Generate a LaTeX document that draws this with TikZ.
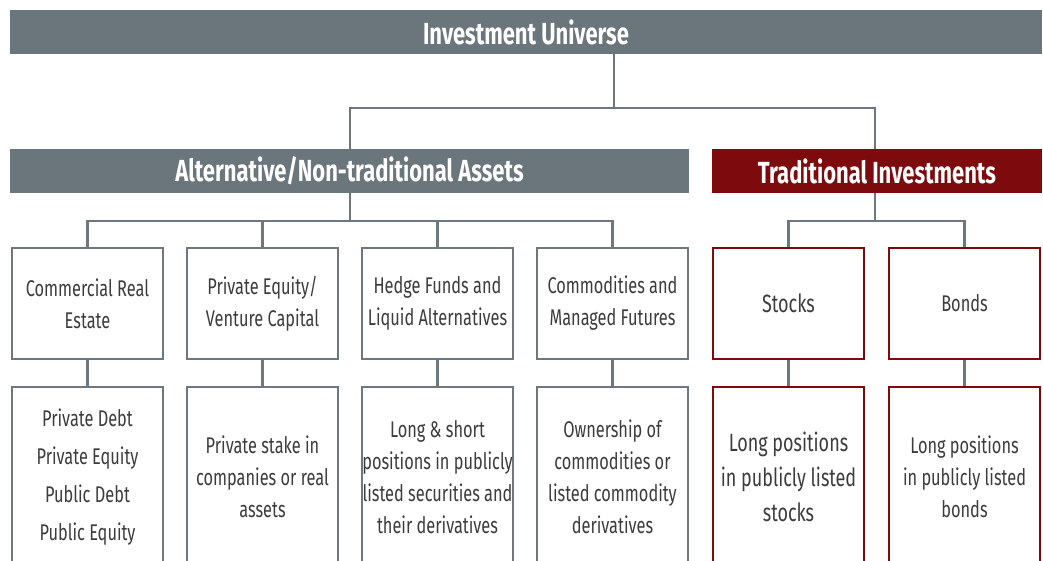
\documentclass[tikz,border=0pt]{standalone}
\usepackage{fontspec}
\setmainfont{Fira Sans}[FakeStretch=0.72]
\definecolor{bargray}{HTML}{6B767C}
\definecolor{linegray}{HTML}{6E777D}
\definecolor{darkred}{HTML}{7D0B0E}
\definecolor{txt}{HTML}{3C3C3C}
\begin{document}
\begin{tikzpicture}[x=1pt,y=-1pt,
  bar/.style={rectangle, fill=bargray, text=white, inner sep=0pt, minimum height=44pt,
    font=\bfseries\fontsize{30.5}{33}\selectfont},
  redbar/.style={bar, fill=darkred},
  gbox/.style={rectangle, draw=linegray, line width=2.7pt, fill=white, text=txt, inner sep=0pt,
    minimum width=151pt, minimum height=111pt, align=center, font=\fontsize{22.7}{32}\selectfont},
  rbox/.style={gbox, draw=darkred},
  lbox/.style={gbox, minimum height=180pt},
  lrbox/.style={rbox, minimum height=180pt},
  conn/.style={draw=linegray, line width=2.7pt}
]
\useasboundingbox (0,0) rectangle (1043,560);
\clip (0,0) rectangle (1043,560);

\node[bar, minimum width=1032pt] (top) at (526,32) {Investment Universe};
\node[bar, minimum width=679pt] (alt) at (349.5,171) {Alternative/Non-traditional Assets};
\node[redbar, minimum width=330pt] (trad) at (877,171) {Traditional Investments};

\node[gbox] (m1) at (87.5,303.5) {Commercial Real\\Estate};
\node[gbox] (m2) at (262.5,303.5) {Private Equity/\\Venture Capital};
\node[gbox] (m3) at (437.5,303.5) {Hedge Funds and\\Liquid Alternatives};
\node[gbox] (m4) at (612.5,303.5) {Commodities and\\Managed Futures};
\node[rbox, font=\fontsize{25}{32}\selectfont] (m5) at (788.5,303.5) {Stocks};
\node[rbox] (m6) at (964.5,303.5) {Bonds};

\node[lbox, font=\fontsize{22.7}{38}\selectfont] (l1) at (87.5,477) {Private Debt\\Private Equity\\Public Debt\\Public Equity};
\node[lbox] (l2) at (262.5,477) {Private stake in\\companies or real\\assets};
\node[lbox] (l3) at (437.5,477) {Long \& short\\positions in publicly\\listed securities and\\their derivatives};
\node[lbox] (l4) at (612.5,477) {Ownership of\\commodities or\\listed commodity\\derivatives};
\node[lrbox, font=\fontsize{25}{35}\selectfont] (l5) at (788.5,477) {Long positions\\in publicly listed\\stocks};
\node[lrbox] (l6) at (964.5,477) {Long positions\\in publicly listed\\bonds};

\coordinate (j1) at (614,108);
\coordinate (jl) at (350,108);
\coordinate (jr) at (875,108);
\draw[conn] (top.south -| j1) -- (j1);
\draw[conn] (alt.north -| jl) -- (jl) -- (jr) -- (jr |- trad.north);

\coordinate (aj) at (350,221);
\draw[conn] (alt.south -| aj) -- (aj);
\draw[conn] (m1.north) |- (aj) -| (m4.north);
\draw[conn] (m2.north) -- (m2.north |- aj);
\draw[conn] (m3.north) -- (m3.north |- aj);

\coordinate (tj) at (875,221);
\draw[conn] (trad.south -| tj) -- (tj);
\draw[conn] (m5.north) |- (tj) -| (m6.north);

\foreach \i in {1,...,6} {
  \draw[conn] (m\i.south) -- (l\i.north);
}
\end{tikzpicture}
\end{document}
